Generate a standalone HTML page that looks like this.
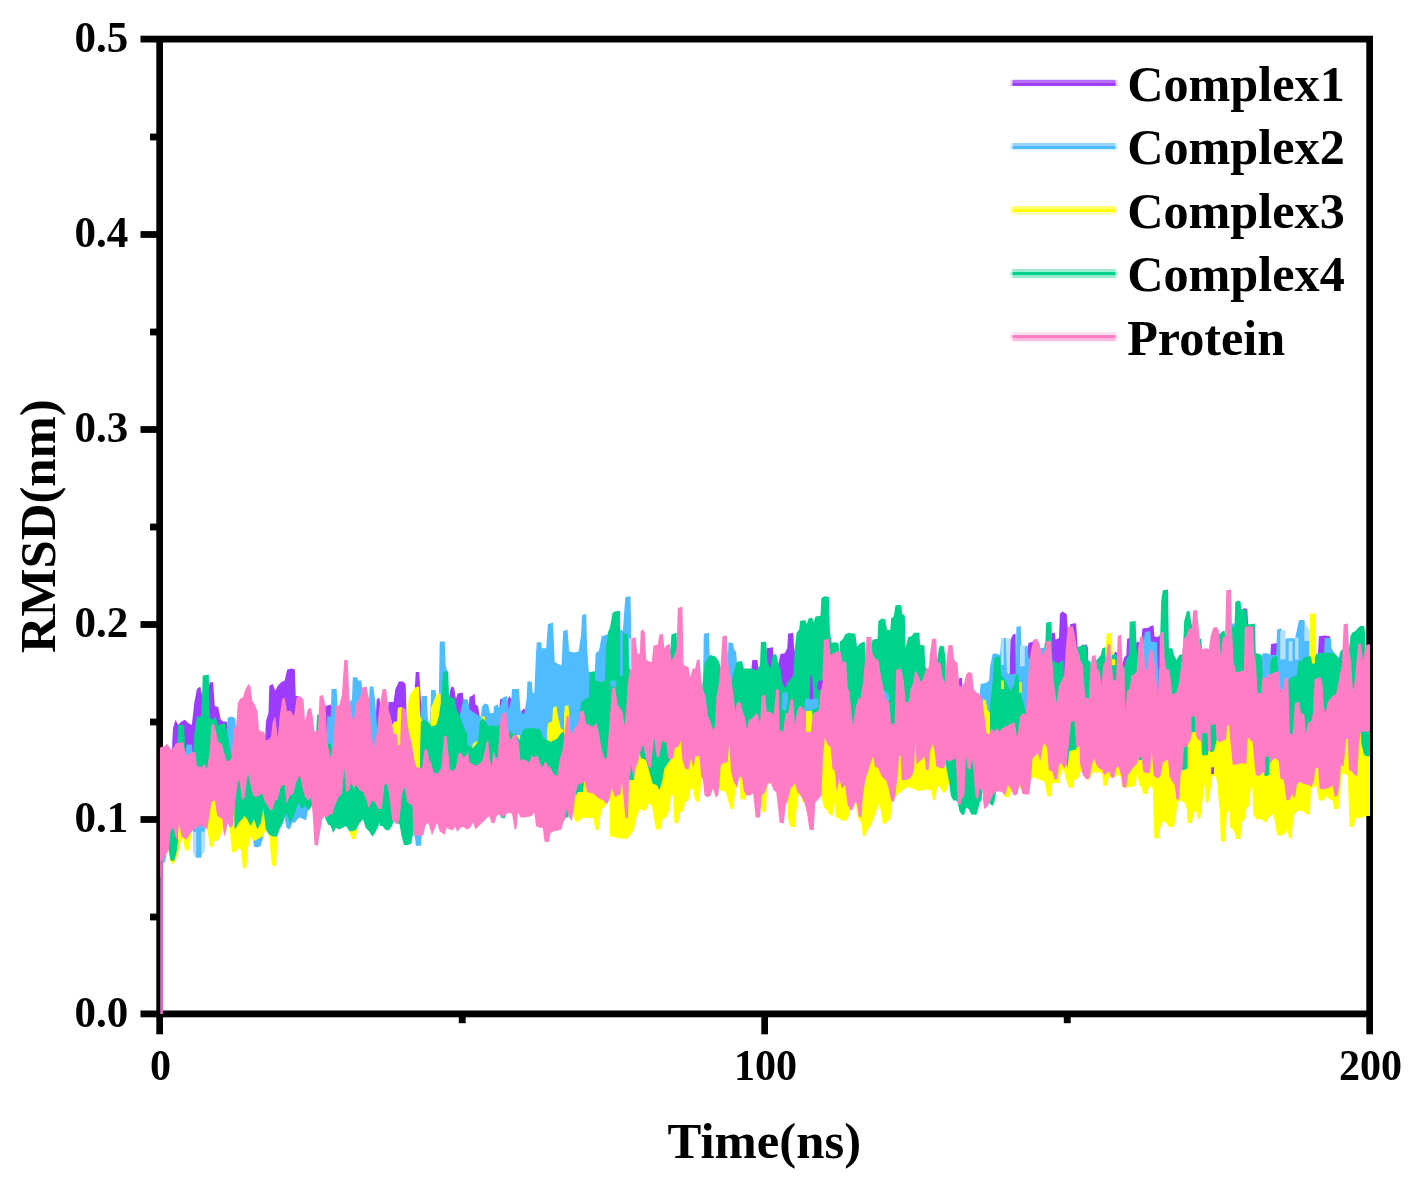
<!DOCTYPE html>
<html lang="en"><head><meta charset="utf-8"><title>RMSD</title>
<style>html,body{margin:0;padding:0;background:#fff}svg{display:block;filter:blur(0.45px)}text{font-family:"Liberation Serif",serif;font-weight:bold;fill:#000}</style></head><body>
<svg width="1408" height="1177" viewBox="0 0 1408 1177">
<rect width="1408" height="1177" fill="#fff"/>
<g fill="#000">
<rect x="156.3" y="36" width="6.7" height="981"/>
<rect x="1366.3" y="36" width="6.7" height="981"/>
<rect x="140.5" y="35.7" width="1232.5" height="6.8"/>
<rect x="140.5" y="1010.5" width="1232.5" height="6.8"/>
<rect x="140.5" y="816.1" width="17" height="6.8"/>
<rect x="140.5" y="621.1" width="17" height="6.8"/>
<rect x="140.5" y="426.1" width="17" height="6.8"/>
<rect x="140.5" y="231.1" width="17" height="6.8"/>
<rect x="150" y="913.6" width="8" height="6.8"/>
<rect x="150" y="718.6" width="8" height="6.8"/>
<rect x="150" y="523.6" width="8" height="6.8"/>
<rect x="150" y="328.6" width="8" height="6.8"/>
<rect x="150" y="133.6" width="8" height="6.8"/>
<rect x="156.3" y="1014" width="6.7" height="20.3"/>
<rect x="761.3" y="1014" width="6.7" height="20.3"/>
<rect x="1366.3" y="1014" width="6.7" height="20.3"/>
<rect x="458.8" y="1014" width="6.9" height="9.2"/>
<rect x="1063.8" y="1014" width="6.9" height="9.2"/>
</g>
<g id="plot">
<clipPath id="cp"><rect x="160" y="39" width="1210" height="975"/></clipPath>
<filter id="bl" x="0" y="0" width="100%" height="100%" filterUnits="userSpaceOnUse"><feGaussianBlur stdDeviation="0.75"/></filter>
<g clip-path="url(#cp)"><g filter="url(#bl)">
<g fill="#9d3bff">
<polygon points="172.2,795.6 172.2,743.6 173.0,728.3 175.6,719.8 178.1,724.9 181.5,721.5 184.9,719.8 188.4,723.2 191.8,724.9 194.3,702.7 196.9,689.1 200.3,686.5 202.8,699.3 206.2,699.3 209.7,682.3 213.1,682.3 214.8,706.1 218.2,707.0 220.7,719.8 223.3,721.5 226.7,721.5 228.4,733.4 228.4,775.2 228.0,775.5 224.0,778.6 220.0,783.2 216.0,784.0 212.0,784.6 208.0,784.7 204.0,786.3 200.0,790.0 196.0,794.1 192.0,793.0 188.0,792.2 184.0,791.1 180.0,791.8 176.0,793.3"/>
<polygon points="265.1,761.5 265.1,740.2 265.9,721.5 268.5,713.0 269.3,685.7 272.7,684.0 275.3,690.8 277.8,685.7 281.2,682.3 284.7,680.6 287.2,669.5 291.5,668.6 294.9,669.5 295.7,695.9 298.3,695.9 300.0,699.3 300.0,750.4 296.0,747.8 292.0,747.5 288.0,749.1 284.0,753.7 280.0,758.0 276.0,759.7 272.0,760.8 268.0,762.3"/>
<polygon points="324.7,769.5 324.7,709.5 325.6,706.1 330.7,704.4 332.4,716.4 332.4,757.8 332.0,758.2 328.0,768.3"/>
<polygon points="375.0,753.1 375.0,733.4 376.7,699.3 379.3,697.6 381.0,709.5 381.0,758.5 380.0,757.5 376.0,753.2"/>
<polygon points="387.7,763.1 387.7,714.7 388.5,701.9 393.6,701.9 395.3,689.1 397.0,685.7 398.8,681.4 403.0,681.4 405.6,684.0 406.4,707.8 406.4,776.8 404.0,774.1 400.0,766.4 396.0,761.2 392.0,760.0 388.0,763.2"/>
<polygon points="414.1,781.1 414.1,699.3 414.9,685.7 415.8,672.0 419.2,672.0 420.9,699.3 421.8,709.5 421.8,791.4 420.0,789.2 416.0,781.7"/>
<polygon points="448.2,794.6 448.2,709.5 449.0,699.3 449.9,690.8 451.6,686.5 454.1,687.4 455.9,699.3 457.6,693.4 462.7,692.5 463.5,699.3 465.2,713.0 465.2,794.4 464.0,794.6 460.0,793.4 456.0,792.2 452.0,793.6"/>
<polygon points="467.8,793.8 467.8,716.4 468.6,709.5 469.5,696.8 472.0,695.9 474.6,693.4 475.5,704.4 478.0,706.1 479.7,716.4 480.6,721.5 480.6,790.7 480.0,790.8 476.0,790.6 472.0,792.3 468.0,793.7"/>
<polygon points="498.5,778.0 498.5,713.0 499.3,707.8 500.2,699.3 501.9,698.5 502.7,707.8 503.6,713.0 503.6,777.8 500.0,777.4"/>
<polygon points="507.0,777.0 507.0,709.5 507.8,699.3 509.5,695.9 511.2,699.3 512.1,707.8 512.1,776.9 512.0,776.9 508.0,776.8"/>
<polygon points="520.6,783.0 520.6,716.4 521.5,711.2 523.2,708.7 525.7,709.5 526.6,716.4 526.6,787.3 524.0,785.5"/>
<polygon points="750.6,755.7 750.6,672.0 751.5,668.6 752.3,660.1 757.4,660.1 758.3,668.6 758.3,756.5 756.0,756.7 752.0,755.6"/>
<polygon points="765.1,754.4 765.1,665.2 766.0,661.8 766.8,648.2 772.8,647.3 773.6,656.7 774.5,665.2 774.5,756.3 772.0,757.6 768.0,756.5"/>
<polygon points="777.9,755.5 777.9,668.6 778.8,661.8 780.5,654.1 784.7,653.3 787.3,648.2 788.1,633.7 793.2,632.8 794.1,648.2 794.9,651.6 795.8,675.5 795.8,758.2 792.0,758.3 788.0,756.2 784.0,756.1 780.0,755.4"/>
<polygon points="816.2,741.9 816.2,689.1 817.1,684.0 818.8,680.6 823.1,680.6 823.9,685.7 823.9,727.4 820.0,735.6"/>
<polygon points="1008.8,758.1 1008.8,675.5 1009.6,673.8 1010.5,639.7 1013.0,634.5 1015.6,633.7 1015.9,673.8 1015.9,754.1 1012.0,757.3"/>
<polygon points="1026.6,732.8 1026.6,656.7 1027.5,651.6 1028.4,643.1 1033.5,641.4 1034.3,648.2 1034.3,716.8 1032.0,720.9 1028.0,730.1"/>
<polygon points="1050.5,713.1 1050.5,648.2 1051.4,641.4 1052.2,632.8 1054.8,632.8 1055.6,639.7 1059.0,638.0 1059.9,614.1 1062.4,611.5 1066.7,614.1 1067.6,626.9 1068.4,631.1 1068.4,707.0 1068.0,707.1 1064.0,708.0 1060.0,709.0 1056.0,712.4 1052.0,714.4"/>
<polygon points="1071.0,706.0 1071.0,627.7 1071.8,626.0 1072.7,623.5 1076.1,623.5 1076.9,636.2 1077.8,648.2 1077.8,707.1 1076.0,707.7 1072.0,705.6"/>
<polygon points="957.6,720.7 957.6,687.4 958.5,685.7 959.3,678.0 961.9,678.0 962.4,685.7 962.4,723.4 960.0,719.9"/>
<polygon points="1070.0,706.4 1070.0,624.3 1075.1,623.5 1076.0,636.2 1076.8,648.2 1076.8,707.4 1076.0,707.7 1072.0,705.6"/>
<polygon points="1080.2,706.4 1080.2,651.6 1081.1,648.2 1081.9,644.8 1087.0,644.8 1087.9,648.2 1087.9,715.9 1084.0,709.3"/>
<polygon points="1125.4,720.4 1125.4,661.8 1126.2,660.1 1127.1,638.8 1129.7,638.0 1130.5,648.2 1130.5,716.8 1128.0,718.0"/>
<polygon points="1134.8,717.6 1134.8,651.6 1135.6,648.2 1136.5,641.4 1139.0,642.2 1139.9,648.2 1139.9,714.8 1136.0,718.3"/>
<polygon points="1140.7,714.6 1140.7,641.4 1141.6,638.0 1142.4,628.6 1148.4,627.7 1151.0,626.0 1153.5,625.2 1154.4,636.2 1156.1,637.1 1159.5,636.2 1160.3,632.8 1161.2,648.2 1161.2,717.0 1160.0,716.0 1156.0,712.3 1152.0,709.8 1148.0,712.4 1144.0,714.0"/>
<polygon points="1242.2,699.8 1242.2,614.1 1243.0,609.8 1243.9,608.1 1247.3,609.0 1248.1,624.3 1249.0,631.1 1249.0,710.1 1248.0,709.8 1244.0,703.8"/>
<polygon points="1269.4,723.6 1269.4,658.4 1270.3,655.0 1271.1,643.9 1277.1,643.1 1278.0,655.0 1278.0,728.2 1276.0,725.5 1272.0,724.8"/>
<polygon points="1112.6,718.3 1112.6,658.4 1113.5,655.0 1115.2,651.6 1117.7,653.3 1118.6,665.2 1118.6,720.0 1116.0,719.7"/>
<polygon points="1120.3,720.3 1120.3,672.0 1121.1,668.6 1124.5,656.7 1127.1,655.0 1128.0,665.2 1128.0,718.0 1124.0,721.6"/>
<polygon points="1317.1,743.2 1317.1,656.7 1318.0,653.3 1318.9,636.2 1324.8,635.4 1329.9,636.2 1330.8,651.6 1331.6,656.7 1331.6,733.4 1328.0,737.3 1324.0,741.1 1320.0,742.3"/>
</g>
<g fill="#50bcff">
<polygon points="185.8,791.6 185.8,750.5 186.6,744.5 191.8,744.5 192.6,752.2 192.6,793.2 192.0,793.0 188.0,792.2"/>
<polygon points="226.7,776.5 226.7,733.4 227.6,718.1 231.0,716.4 235.2,718.1 236.1,728.3 236.1,764.7 236.0,764.8 232.0,772.1 228.0,775.5"/>
<polygon points="326.4,768.9 326.4,743.6 327.3,716.4 330.7,716.4 331.5,689.1 336.6,689.1 337.5,706.1 337.5,752.8 336.0,753.2 332.0,758.2 328.0,768.3"/>
<polygon points="348.6,741.1 348.6,716.4 349.4,702.7 352.0,699.3 352.8,677.2 357.1,677.2 358.0,680.6 361.4,680.6 362.2,689.1 362.2,750.1 360.0,746.8 356.0,739.5 352.0,739.4"/>
<polygon points="369.0,753.5 369.0,699.3 369.9,686.5 373.3,686.5 375.0,699.3 377.6,733.4 377.6,754.8 376.0,753.2 372.0,752.8"/>
<polygon points="420.1,789.3 420.1,716.4 420.9,709.5 421.8,695.9 426.9,695.9 427.7,716.4 428.6,721.5 428.6,797.5 428.0,797.8 424.0,794.1"/>
<polygon points="429.4,797.0 429.4,723.2 430.3,716.4 431.1,689.9 435.4,689.9 437.1,702.7 438.0,716.4 438.0,794.2 436.0,793.7 432.0,795.6"/>
<polygon points="438.0,794.2 438.0,716.4 438.8,699.3 439.7,641.4 444.8,641.4 445.6,665.2 447.3,671.2 448.2,699.3 448.2,794.6 448.0,794.7 444.0,796.1 440.0,794.8"/>
<polygon points="458.4,792.9 458.4,724.9 459.3,716.4 463.5,699.3 467.8,699.3 469.5,709.5 479.7,716.4 480.6,716.4 482.3,706.1 484.8,703.6 488.2,704.4 489.9,713.0 493.4,713.0 494.2,706.1 497.6,704.4 499.3,709.5 502.7,697.6 507.0,695.9 508.7,709.5 511.2,699.3 512.1,689.1 518.9,689.1 520.6,711.2 524.0,714.7 526.6,699.3 527.4,681.4 531.7,681.4 532.6,692.5 534.3,693.4 536.0,653.3 536.8,642.2 541.1,642.2 541.9,648.2 546.2,648.2 547.9,624.3 553.0,622.6 554.7,661.8 557.3,663.5 561.5,665.2 563.2,631.1 567.5,629.4 569.2,651.6 574.3,652.4 578.6,651.6 581.1,634.5 582.0,614.9 586.2,614.1 587.1,648.2 588.8,672.0 594.8,672.0 595.6,653.3 599.0,650.7 601.6,636.2 607.6,634.5 608.4,631.1 609.3,648.2 609.3,759.3 608.0,759.3 604.0,760.4 600.0,762.4 596.0,763.5 592.0,760.2 588.0,757.3 584.0,758.3 580.0,759.0 576.0,761.8 572.0,766.9 568.0,774.9 564.0,782.5 560.0,788.9 556.0,792.5 552.0,796.9 548.0,798.7 544.0,797.4 540.0,795.5 536.0,793.6 532.0,791.0 528.0,788.3 524.0,785.5 520.0,782.6 516.0,779.5 512.0,776.9 508.0,776.8 504.0,777.9 500.0,777.4 496.0,779.1 492.0,782.3 488.0,787.0 484.0,790.4 480.0,790.8 476.0,790.6 472.0,792.3 468.0,793.7 464.0,794.6 460.0,793.4"/>
<polygon points="619.4,747.5 619.4,675.5 620.2,629.4 622.8,631.1 625.3,597.0 630.5,596.2 631.3,638.0 632.2,648.2 632.2,722.7 632.0,722.9 628.0,730.8 624.0,736.1 620.0,745.8"/>
<polygon points="610.0,759.4 610.0,686.5 610.9,680.6 616.0,680.6 616.8,689.1 616.8,754.4 616.0,756.6 612.0,759.5"/>
<polygon points="702.0,733.2 702.0,692.5 702.9,689.1 703.8,633.7 708.9,632.8 709.7,656.7 710.6,665.2 710.6,735.5 708.0,736.5 704.0,735.5"/>
<polygon points="726.8,729.1 726.8,668.6 727.6,665.2 728.5,642.2 732.7,643.1 734.4,649.9 736.1,651.6 737.0,663.5 737.8,682.3 737.8,737.5 736.0,733.7 732.0,728.5 728.0,728.3"/>
<polygon points="781.3,755.6 781.3,699.3 782.2,692.5 787.3,692.5 788.1,709.5 788.1,756.3 788.0,756.2 784.0,756.1"/>
<polygon points="803.5,758.7 803.5,709.5 804.3,699.3 818.0,699.3 818.8,709.5 818.8,737.6 816.0,742.3 812.0,750.7 808.0,759.2 804.0,758.7"/>
<polygon points="978.9,744.2 978.9,695.9 979.8,692.5 980.6,684.0 985.7,683.1 989.1,680.6 990.0,666.9 992.6,654.1 995.1,653.3 1000.2,655.0 1001.1,638.8 1006.2,638.0 1007.0,672.0 1010.5,674.6 1015.9,673.8 1016.4,626.9 1020.7,626.0 1021.5,648.2 1023.2,651.6 1024.9,646.5 1027.5,645.6 1028.4,656.7 1030.1,660.1 1030.9,661.8 1030.9,723.4 1028.0,730.1 1024.0,737.9 1020.0,746.2 1016.0,754.0 1012.0,757.3 1008.0,758.3 1004.0,760.1 1000.0,761.1 996.0,761.6 992.0,759.6 988.0,757.3 984.0,750.8 980.0,745.1"/>
<polygon points="1038.6,710.2 1038.6,658.4 1039.4,655.0 1040.3,648.2 1045.4,647.3 1046.2,655.0 1046.2,709.8 1044.0,708.3 1040.0,708.2"/>
<polygon points="849.4,740.8 849.4,724.9 850.2,699.3 855.3,699.3 856.2,709.5 856.2,740.1 856.0,740.3 852.0,741.9"/>
<polygon points="1143.3,714.1 1143.3,641.4 1144.1,638.0 1145.0,632.0 1150.1,631.1 1151.0,641.4 1156.9,642.2 1157.8,665.2 1158.6,668.6 1158.6,714.7 1156.0,712.3 1152.0,709.8 1148.0,712.4 1144.0,714.0"/>
<polygon points="1230.2,695.3 1230.2,631.1 1231.1,627.7 1231.9,623.5 1234.5,623.5 1235.3,648.2 1235.3,696.0 1232.0,697.2"/>
<polygon points="1260.9,713.0 1260.9,665.2 1261.8,660.1 1262.6,653.3 1267.7,653.3 1270.3,655.0 1276.2,655.0 1277.1,629.4 1281.4,628.6 1282.2,639.7 1285.6,638.8 1291.6,638.0 1295.0,638.8 1298.4,622.6 1299.3,620.1 1304.4,620.1 1306.1,638.0 1310.0,638.8 1310.0,743.2 1308.0,743.1 1304.0,747.5 1300.0,749.8 1296.0,747.0 1292.0,743.4 1288.0,738.5 1284.0,734.7 1280.0,731.1 1276.0,725.5 1272.0,724.8 1268.0,723.0 1264.0,716.6"/>
<polygon points="1310.0,743.2 1310.0,638.8 1311.2,651.6 1316.3,653.3 1324.0,653.3 1324.8,638.0 1330.8,638.0 1331.6,648.2 1334.2,653.3 1338.5,656.7 1340.2,660.1 1341.0,665.2 1341.0,721.6 1340.0,722.5 1336.0,726.1 1332.0,733.0 1328.0,737.3 1324.0,741.1 1320.0,742.3 1316.0,743.5 1312.0,743.4"/>
<polygon points="161.1,799.9 161.1,858.5 161.9,863.6 164.5,862.8 166.2,856.8 166.2,797.3 164.0,798.5"/>
<polygon points="193.0,793.3 193.0,831.2 193.5,852.6 194.7,855.5 196.4,857.7 200.8,857.7 201.8,854.3 204.2,851.7 204.9,831.2 204.9,786.0 204.0,786.3 200.0,790.0 196.0,794.1"/>
<polygon points="252.3,749.1 252.3,836.4 254.0,846.6 257.4,847.4 260.8,845.7 263.4,836.4 263.4,760.4 260.0,756.6 256.0,753.3"/>
<polygon points="284.7,753.0 284.7,817.6 286.4,827.8 289.8,829.5 292.3,822.7 294.9,822.7 297.4,819.3 300.0,817.6 303.4,819.3 306.0,820.2 307.7,812.5 307.7,756.5 304.0,755.1 300.0,750.4 296.0,747.8 292.0,747.5 288.0,749.1"/>
<polygon points="414.1,781.1 414.1,836.4 414.9,836.4 415.8,845.7 420.9,845.7 421.8,836.4 421.8,791.4 420.0,789.2 416.0,781.7"/>
</g>
<g fill="#ffff00">
<polygon points="390.2,761.4 390.2,730.0 391.9,724.9 394.5,721.5 397.0,721.5 397.9,707.8 402.2,707.0 403.0,716.4 403.9,721.5 403.9,773.9 400.0,766.4 396.0,761.2 392.0,760.0"/>
<polygon points="406.4,776.8 406.4,721.5 409.0,695.9 411.5,692.5 414.9,687.4 419.2,686.5 420.1,716.4 422.6,721.5 423.5,733.4 423.5,793.5 420.0,789.2 416.0,781.7 412.0,780.5 408.0,778.6"/>
<polygon points="430.3,796.5 430.3,726.6 431.1,707.8 434.5,699.3 436.2,694.2 440.5,693.4 441.4,716.4 442.2,719.8 442.2,795.6 440.0,794.8 436.0,793.7 432.0,795.6"/>
<polygon points="480.6,790.7 480.6,721.5 481.4,716.4 484.8,716.4 485.7,728.3 487.4,736.8 488.2,740.2 488.2,786.7 488.0,787.0 484.0,790.4"/>
<polygon points="472.0,792.2 472.0,748.8 472.9,743.6 477.2,741.1 478.0,748.8 478.0,790.7 476.0,790.6"/>
<polygon points="516.4,779.8 516.4,740.2 517.2,735.1 519.8,735.1 520.6,741.9 520.6,783.0 520.0,782.6"/>
<polygon points="547.0,798.4 547.0,733.4 547.9,723.2 552.2,721.5 553.0,707.8 556.4,706.1 558.1,716.4 560.7,728.3 563.2,730.0 563.8,736.8 563.8,782.9 560.0,788.9 556.0,792.5 552.0,796.9 548.0,798.7"/>
<polygon points="564.1,782.3 564.1,714.7 564.9,706.1 568.4,705.3 569.2,714.7 569.2,772.5 568.0,774.9"/>
<polygon points="804.3,758.7 804.3,716.4 805.2,716.4 806.0,710.4 812.0,709.5 812.8,716.4 812.8,748.9 812.0,750.7 808.0,759.2"/>
<polygon points="982.3,748.5 982.3,713.0 983.2,699.3 985.7,700.2 987.4,709.5 990.9,714.7 991.7,723.2 991.7,759.4 988.0,757.3 984.0,750.8"/>
<polygon points="1104.9,716.6 1104.9,648.2 1105.8,644.8 1106.6,633.7 1111.8,632.8 1112.6,651.6 1113.5,665.2 1113.5,718.7 1112.0,718.1 1108.0,715.7"/>
<polygon points="1309.1,743.2 1309.1,661.8 1309.8,614.1 1315.4,613.2 1316.3,661.8 1316.3,743.4 1316.0,743.5 1312.0,743.4"/>
<polygon points="168.8,796.2 168.8,853.4 169.6,860.2 173.0,864.5 175.6,860.2 178.1,853.4 180.7,841.5 183.2,838.1 184.9,850.0 188.4,850.9 190.1,841.5 191.8,834.7 191.8,793.0 188.0,792.2 184.0,791.1 180.0,791.8 176.0,793.3 172.0,795.7"/>
<polygon points="207.1,785.1 207.1,829.5 208.0,833.0 209.7,846.6 212.2,847.4 214.8,839.8 217.3,841.5 219.9,836.4 222.4,829.5 225.0,836.4 226.7,829.5 226.7,776.5 224.0,778.6 220.0,783.2 216.0,784.0 212.0,784.6 208.0,784.7"/>
<polygon points="229.3,774.5 229.3,827.8 230.1,833.0 231.8,851.7 235.2,852.6 237.8,848.3 241.2,850.0 242.9,867.9 246.3,868.8 248.0,848.3 250.6,836.4 253.1,841.5 262.5,836.4 265.9,829.5 269.3,836.4 271.9,865.3 276.1,866.2 277.5,836.4 278.2,831.2 278.2,758.8 276.0,759.7 272.0,760.8 268.0,762.3 264.0,761.2 260.0,756.6 256.0,753.3 252.0,748.8 248.0,748.3 244.0,752.2 240.0,757.9 236.0,764.8 232.0,772.1"/>
<polygon points="349.4,740.7 349.4,831.2 350.3,834.7 352.0,838.9 355.4,838.9 357.1,831.2 357.1,741.5 356.0,739.5 352.0,739.4"/>
<polygon points="572.6,766.1 572.6,810.8 574.3,819.3 577.7,822.7 580.3,819.3 584.5,817.6 589.7,818.5 593.1,817.6 595.6,829.5 598.2,831.2 599.9,819.3 601.6,809.1 604.1,807.4 606.7,804.0 606.7,759.6 604.0,760.4 600.0,762.4 596.0,763.5 592.0,760.2 588.0,757.3 584.0,758.3 580.0,759.0 576.0,761.8"/>
<polygon points="610.1,759.4 610.1,800.6 611.0,819.3 614.4,822.7 616.1,836.4 620.0,836.4 620.0,745.8 616.0,756.6 612.0,759.5"/>
<polygon points="610.0,759.4 610.0,836.4 613.4,836.4 616.8,838.1 627.0,838.9 630.5,834.7 633.9,829.5 636.4,817.6 639.8,809.1 643.2,810.8 645.8,810.8 648.4,804.0 651.8,805.7 654.3,819.3 656.0,829.5 660.3,829.5 662.8,819.3 666.2,817.6 669.7,809.1 671.0,795.5 673.1,795.5 674.4,822.7 678.2,823.6 679.9,812.5 683.3,810.8 685.0,802.3 688.4,800.6 690.1,790.3 692.7,788.6 695.2,800.6 699.5,802.3 701.2,780.1 701.2,732.2 700.0,730.8 696.0,724.5 692.0,712.9 688.0,706.8 684.0,706.1 680.0,704.8 676.0,701.4 672.0,697.9 668.0,695.4 664.0,700.2 660.0,702.3 656.0,699.5 652.0,699.6 648.0,701.2 644.0,702.7 640.0,709.9 636.0,717.5 632.0,722.9 628.0,730.8 624.0,736.1 620.0,745.8 616.0,756.6 612.0,759.5"/>
<polygon points="718.2,733.2 718.2,788.6 719.1,788.6 720.8,790.3 725.9,792.0 728.5,802.3 731.0,809.1 733.6,809.1 735.3,788.6 737.8,786.9 737.8,737.5 736.0,733.7 732.0,728.5 728.0,728.3 724.0,731.1 720.0,732.5"/>
<polygon points="738.7,739.2 738.7,776.7 739.5,776.7 740.4,798.9 744.7,799.7 746.4,795.5 746.4,753.6 744.0,750.2 740.0,741.8"/>
<polygon points="760.0,756.3 760.0,795.5 760.9,795.5 761.7,811.6 766.0,812.5 766.8,792.0 768.5,783.5 768.5,756.6 768.0,756.5 764.0,753.6"/>
<polygon points="786.4,756.2 786.4,798.9 787.3,798.9 788.1,819.3 790.7,827.0 794.9,827.0 796.6,809.1 798.4,795.5 800.9,795.5 802.6,802.3 805.2,803.1 805.2,758.9 804.0,758.7 800.0,758.6 796.0,758.2 792.0,758.3 788.0,756.2"/>
<polygon points="820.5,734.5 820.5,795.5 821.4,795.5 823.9,807.4 827.3,810.8 829.9,815.1 832.4,815.9 834.1,802.3 835.9,817.6 839.3,818.5 841.8,817.6 846.1,821.0 847.8,819.3 850.0,810.8 850.0,741.0 848.0,740.2 844.0,733.2 840.0,724.2 836.0,714.1 832.0,714.0 828.0,718.7 824.0,727.3"/>
<polygon points="840.0,724.2 840.0,819.3 843.4,821.0 846.8,819.3 847.7,812.5 850.2,810.8 850.2,741.1 848.0,740.2 844.0,733.2"/>
<polygon points="856.2,740.1 856.2,805.7 857.0,815.9 858.8,819.3 861.3,822.7 863.0,836.4 865.6,835.5 867.3,829.5 870.7,826.1 873.2,819.3 875.8,812.5 878.4,804.0 880.9,810.8 882.6,822.7 885.2,824.4 887.7,821.0 890.3,819.3 892.0,802.3 895.4,797.2 898.8,792.9 901.4,792.0 904.8,788.6 908.2,786.9 913.3,788.6 917.6,791.2 921.8,790.3 926.9,789.5 931.2,790.3 932.9,799.7 935.5,800.6 937.2,785.2 940.6,788.6 943.1,792.9 945.7,792.0 948.2,785.2 949.9,781.8 949.9,717.6 948.0,715.0 944.0,707.4 940.0,708.5 936.0,710.4 932.0,712.7 928.0,711.1 924.0,713.2 920.0,718.8 916.0,724.4 912.0,723.5 908.0,726.0 904.0,732.1 900.0,736.6 896.0,737.1 892.0,734.4 888.0,731.7 884.0,730.3 880.0,726.1 876.0,721.4 872.0,723.4 868.0,726.2 864.0,732.3 860.0,737.2"/>
<polygon points="1002.8,760.4 1002.8,792.0 1003.6,795.5 1005.3,797.2 1009.6,797.2 1011.3,788.6 1011.3,757.5 1008.0,758.3 1004.0,760.1"/>
<polygon points="1017.3,751.5 1017.3,788.6 1018.1,785.2 1019.0,788.6 1021.5,788.6 1022.4,793.8 1022.4,741.2 1020.0,746.2"/>
<polygon points="1030.1,725.4 1030.1,780.1 1030.9,780.1 1033.5,776.7 1036.0,778.4 1040.3,780.1 1044.5,781.8 1047.1,795.5 1050.5,797.2 1052.2,783.5 1055.6,782.7 1059.0,783.5 1061.6,768.2 1064.1,771.6 1066.7,781.8 1069.3,787.8 1072.7,787.8 1074.4,780.1 1077.8,778.4 1080.0,773.3 1080.0,706.2 1076.0,707.7 1072.0,705.6 1068.0,707.1 1064.0,708.0 1060.0,709.0 1056.0,712.4 1052.0,714.4 1048.0,710.9 1044.0,708.3 1040.0,708.2 1036.0,713.8 1032.0,720.9"/>
<polygon points="1070.0,706.4 1070.0,786.9 1072.6,786.9 1074.3,778.4 1077.7,779.3 1079.4,773.3 1081.1,771.6 1081.1,707.0 1080.0,706.2 1076.0,707.7 1072.0,705.6"/>
<polygon points="1086.2,713.0 1086.2,778.4 1087.0,779.3 1088.8,780.1 1091.3,775.0 1093.9,771.6 1097.3,773.3 1099.8,771.6 1102.4,775.0 1103.2,785.2 1106.6,786.1 1108.4,778.4 1110.9,776.7 1114.3,777.6 1116.9,775.0 1120.3,775.9 1122.0,786.9 1127.1,787.8 1129.7,786.9 1135.6,786.1 1137.3,771.6 1139.0,785.2 1141.6,786.9 1143.3,793.8 1146.7,794.6 1148.4,788.6 1151.0,785.2 1152.7,788.6 1154.4,838.1 1158.6,838.9 1160.3,827.8 1162.9,821.0 1166.3,822.7 1168.9,827.0 1174.0,827.0 1175.7,819.3 1177.4,802.3 1180.8,800.6 1184.2,802.3 1186.8,809.1 1187.6,822.7 1191.9,823.6 1193.6,812.5 1196.1,810.8 1197.8,819.3 1200.4,817.6 1202.1,802.3 1204.7,783.5 1205.5,802.3 1208.1,803.1 1209.8,795.5 1212.3,776.7 1215.7,775.0 1217.4,785.2 1220.0,815.9 1220.9,841.5 1225.1,841.5 1226.8,812.5 1229.4,810.8 1230.2,827.8 1233.6,829.5 1236.2,838.9 1240.5,838.9 1241.3,822.7 1244.7,819.3 1246.4,809.1 1249.0,805.7 1250.7,788.6 1252.4,788.6 1253.2,814.2 1256.6,819.3 1261.8,819.3 1266.0,822.7 1268.6,817.6 1272.8,814.2 1274.5,819.3 1277.1,835.5 1281.4,835.5 1285.6,833.0 1287.3,829.5 1289.0,838.1 1291.6,838.9 1293.3,815.9 1296.7,811.6 1300.1,810.8 1303.5,810.8 1306.1,814.2 1310.0,814.2 1310.0,743.2 1308.0,743.1 1304.0,747.5 1300.0,749.8 1296.0,747.0 1292.0,743.4 1288.0,738.5 1284.0,734.7 1280.0,731.1 1276.0,725.5 1272.0,724.8 1268.0,723.0 1264.0,716.6 1260.0,712.0 1256.0,711.4 1252.0,710.8 1248.0,709.8 1244.0,703.8 1240.0,695.0 1236.0,695.7 1232.0,697.2 1228.0,692.9 1224.0,688.9 1220.0,686.3 1216.0,687.5 1212.0,692.2 1208.0,689.8 1204.0,687.9 1200.0,688.4 1196.0,690.4 1192.0,694.7 1188.0,700.9 1184.0,707.4 1180.0,713.5 1176.0,716.6 1172.0,720.0 1168.0,723.5 1164.0,719.6 1160.0,716.0 1156.0,712.3 1152.0,709.8 1148.0,712.4 1144.0,714.0 1140.0,714.7 1136.0,718.3 1132.0,716.1 1128.0,718.0 1124.0,721.6 1120.0,720.2 1116.0,719.7 1112.0,718.1 1108.0,715.7 1104.0,716.9 1100.0,718.9 1096.0,719.7 1092.0,719.8 1088.0,716.0"/>
<polygon points="1310.0,743.2 1310.0,812.5 1311.2,788.6 1313.7,786.9 1316.3,785.2 1318.9,800.6 1324.0,800.6 1325.7,795.5 1329.1,798.9 1332.5,800.6 1334.2,809.1 1338.5,809.1 1340.2,795.5 1341.0,775.0 1343.6,773.3 1346.1,775.0 1347.8,775.0 1348.7,802.3 1349.5,827.0 1353.8,827.0 1355.5,817.6 1358.1,818.5 1362.3,817.6 1365.7,815.9 1370.8,815.9 1370.8,691.6 1368.0,696.0 1364.0,700.5 1360.0,698.3 1356.0,699.0 1352.0,704.3 1348.0,711.7 1344.0,719.0 1340.0,722.5 1336.0,726.1 1332.0,733.0 1328.0,737.3 1324.0,741.1 1320.0,742.3 1316.0,743.5 1312.0,743.4"/>
</g>
<g fill="#00d28b">
<polygon points="177.3,792.8 177.3,742.8 178.1,724.9 184.1,724.9 184.9,741.9 184.9,791.4 184.0,791.1 180.0,791.8"/>
<polygon points="193.5,793.4 193.5,752.2 194.3,733.4 196.9,716.4 201.1,716.4 202.8,675.5 208.8,674.6 209.7,716.4 212.2,719.8 215.6,716.4 218.2,724.9 225.0,723.2 227.6,733.4 230.1,750.5 231.8,757.3 231.8,772.3 228.0,775.5 224.0,778.6 220.0,783.2 216.0,784.0 212.0,784.6 208.0,784.7 204.0,786.3 200.0,790.0 196.0,794.1"/>
<polygon points="316.2,765.5 316.2,731.7 317.0,714.7 318.8,714.7 319.6,730.0 319.6,769.4"/>
<polygon points="325.6,769.2 325.6,750.5 326.4,743.6 330.7,743.6 332.4,750.5 332.4,757.8 332.0,758.2 328.0,768.3"/>
<polygon points="420.1,789.3 420.1,750.5 420.9,721.5 424.3,719.8 429.4,723.2 431.1,726.6 436.2,724.9 438.8,716.4 441.4,699.3 443.1,672.0 448.2,671.2 449.0,695.9 451.6,697.6 455.0,699.3 456.7,709.5 459.3,714.7 461.8,721.5 464.4,728.3 466.9,733.4 467.8,745.3 472.9,747.9 478.0,741.9 479.7,721.5 482.3,718.1 485.7,721.5 489.1,726.6 492.5,724.9 495.9,726.6 499.3,724.9 500.2,733.4 500.2,777.4 500.0,777.4 496.0,779.1 492.0,782.3 488.0,787.0 484.0,790.4 480.0,790.8 476.0,790.6 472.0,792.3 468.0,793.7 464.0,794.6 460.0,793.4 456.0,792.2 452.0,793.6 448.0,794.7 444.0,796.1 440.0,794.8 436.0,793.7 432.0,795.6 428.0,797.8 424.0,794.1"/>
<polygon points="508.7,776.8 508.7,733.4 509.5,730.0 512.1,733.4 516.4,735.1 519.8,740.2 521.5,733.4 524.0,729.1 528.3,728.3 533.4,728.3 539.4,729.1 541.9,733.4 543.6,738.5 547.9,740.2 550.5,741.9 557.3,738.5 560.7,733.4 563.2,731.7 564.1,733.4 564.1,782.3 564.0,782.5 560.0,788.9 556.0,792.5 552.0,796.9 548.0,798.7 544.0,797.4 540.0,795.5 536.0,793.6 532.0,791.0 528.0,788.3 524.0,785.5 520.0,782.6 516.0,779.5 512.0,776.9"/>
<polygon points="579.4,759.4 579.4,716.4 580.3,711.2 581.1,702.7 584.5,699.3 588.8,697.6 589.7,672.0 594.8,671.2 595.6,680.6 601.6,682.3 605.0,680.6 605.9,648.2 608.4,631.1 611.0,626.0 614.4,611.5 620.0,610.7 620.0,745.8 616.0,756.6 612.0,759.5 608.0,759.3 604.0,760.4 600.0,762.4 596.0,763.5 592.0,760.2 588.0,757.3 584.0,758.3 580.0,759.0"/>
<polygon points="610.0,759.4 610.0,627.7 612.6,612.4 619.4,611.5 620.2,629.4 622.8,632.8 627.9,634.5 628.8,665.2 630.5,670.3 631.3,672.0 631.3,724.3 628.0,730.8 624.0,736.1 620.0,745.8 616.0,756.6 612.0,759.5"/>
<polygon points="669.7,696.4 669.7,651.6 670.5,648.2 671.4,634.5 676.5,632.8 677.3,648.2 677.3,702.5 676.0,701.4 672.0,697.9"/>
<polygon points="701.2,732.2 701.2,689.1 702.0,689.1 704.6,663.5 708.9,656.7 710.6,655.0 715.7,656.7 719.1,661.8 720.8,668.6 721.6,682.3 721.6,731.9 720.0,732.5 716.0,734.0 712.0,734.9 708.0,736.5 704.0,735.5"/>
<polygon points="731.0,728.4 731.0,685.7 731.9,682.3 733.6,672.0 737.0,661.8 742.1,661.0 743.8,668.6 751.5,668.6 756.6,670.3 760.0,665.2 760.9,642.2 766.0,641.4 767.7,661.8 770.2,668.6 772.8,655.0 776.2,654.1 777.9,661.8 780.5,668.6 782.2,682.3 785.6,689.1 787.3,682.3 790.7,678.9 793.2,675.5 794.9,648.2 796.6,632.8 799.2,629.4 800.1,620.9 805.2,620.1 806.9,624.3 808.6,618.4 812.0,617.5 813.7,622.6 815.4,616.6 820.5,615.8 821.4,597.9 824.8,596.2 829.0,597.0 829.9,631.1 831.6,643.1 834.1,642.2 838.4,643.1 839.3,651.6 839.3,722.3 836.0,714.1 832.0,714.0 828.0,718.7 824.0,727.3 820.0,735.6 816.0,742.3 812.0,750.7 808.0,759.2 804.0,758.7 800.0,758.6 796.0,758.2 792.0,758.3 788.0,756.2 784.0,756.1 780.0,755.4 776.0,755.5 772.0,757.6 768.0,756.5 764.0,753.6 760.0,756.3 756.0,756.7 752.0,755.6 748.0,755.9 744.0,750.2 740.0,741.8 736.0,733.7 732.0,728.5"/>
<polygon points="840.1,724.5 840.1,656.7 841.0,653.3 841.8,639.7 845.2,638.0 847.8,633.7 850.0,632.8 850.0,741.0 848.0,740.2 844.0,733.2"/>
<polygon points="840.0,724.2 840.0,641.4 842.6,639.7 845.1,634.5 848.5,632.8 855.3,633.7 857.0,646.5 860.5,643.1 864.7,641.4 865.6,653.3 865.6,729.9 864.0,732.3 860.0,737.2 856.0,740.3 852.0,741.9 848.0,740.2 844.0,733.2"/>
<polygon points="870.7,724.3 870.7,651.6 871.5,648.2 872.4,639.7 877.5,638.8 878.4,620.9 881.8,618.4 885.2,619.2 886.9,629.4 890.3,630.3 891.1,618.4 893.7,616.6 895.4,605.6 898.8,604.7 901.4,605.6 902.2,614.1 904.8,615.8 905.6,648.2 908.2,637.1 911.6,636.2 914.1,632.8 919.3,632.8 920.1,644.8 924.4,645.6 925.2,665.2 926.1,668.6 926.1,712.1 924.0,713.2 920.0,718.8 916.0,724.4 912.0,723.5 908.0,726.0 904.0,732.1 900.0,736.6 896.0,737.1 892.0,734.4 888.0,731.7 884.0,730.3 880.0,726.1 876.0,721.4 872.0,723.4"/>
<polygon points="936.3,710.3 936.3,661.8 937.2,660.1 938.9,648.2 940.6,645.6 944.0,646.5 945.7,660.1 945.7,710.6 944.0,707.4 940.0,708.5"/>
<polygon points="990.0,758.5 990.0,702.7 990.9,699.3 992.6,682.3 994.3,658.4 996.0,656.7 1000.2,656.7 1001.1,675.5 1003.6,677.2 1006.2,682.3 1010.5,690.8 1013.9,685.7 1015.6,675.5 1018.1,673.8 1019.8,689.1 1022.4,699.3 1024.1,704.4 1025.8,713.0 1025.8,734.4 1024.0,737.9 1020.0,746.2 1016.0,754.0 1012.0,757.3 1008.0,758.3 1004.0,760.1 1000.0,761.1 996.0,761.6 992.0,759.6"/>
<polygon points="1044.5,708.7 1044.5,644.8 1045.4,641.4 1046.2,622.6 1051.4,621.8 1052.2,641.4 1052.2,714.3 1052.0,714.4 1048.0,710.9"/>
<polygon points="1050.5,713.1 1050.5,661.8 1051.4,660.1 1053.1,661.0 1058.2,663.5 1063.3,660.1 1064.1,675.5 1064.1,707.9 1064.0,708.0 1060.0,709.0 1056.0,712.4 1052.0,714.4"/>
<polygon points="1075.2,707.3 1075.2,656.7 1076.1,655.0 1076.9,648.2 1080.0,647.3 1080.0,706.2 1076.0,707.7"/>
<polygon points="1075.1,707.3 1075.1,655.0 1076.0,651.6 1076.8,647.3 1079.4,646.5 1081.9,645.6 1086.2,644.8 1087.9,660.1 1090.5,661.8 1091.3,668.6 1091.3,719.1 1088.0,716.0 1084.0,709.3 1080.0,706.2 1076.0,707.7"/>
<polygon points="1095.6,719.7 1095.6,661.8 1096.4,660.1 1098.1,658.4 1100.7,655.0 1102.4,648.2 1104.9,647.3 1105.8,660.1 1106.6,668.6 1106.6,716.1 1104.0,716.9 1100.0,718.9 1096.0,719.7"/>
<polygon points="1110.1,716.9 1110.1,668.6 1110.9,665.2 1111.8,655.0 1116.0,653.3 1117.7,665.2 1117.7,719.9 1116.0,719.7 1112.0,718.1"/>
<polygon points="1122.8,721.2 1122.8,672.0 1123.7,668.6 1126.2,660.1 1128.8,655.0 1129.7,621.8 1135.6,620.9 1136.5,648.2 1137.3,651.6 1138.2,665.2 1138.2,716.3 1136.0,718.3 1132.0,716.1 1128.0,718.0 1124.0,721.6"/>
<polygon points="1159.5,715.5 1159.5,636.2 1160.3,632.8 1161.2,600.5 1162.9,590.2 1168.0,589.4 1168.9,648.2 1172.3,648.2 1174.0,655.0 1176.5,660.1 1179.1,655.0 1182.5,654.1 1183.4,638.8 1184.2,620.9 1186.8,611.5 1189.3,610.7 1191.0,620.9 1192.7,627.7 1193.6,631.1 1193.6,693.0 1192.0,694.7 1188.0,700.9 1184.0,707.4 1180.0,713.5 1176.0,716.6 1172.0,720.0 1168.0,723.5 1164.0,719.6 1160.0,716.0"/>
<polygon points="1197.8,689.5 1197.8,648.2 1198.7,644.8 1199.5,638.8 1201.2,638.8 1202.1,648.2 1202.1,688.1 1200.0,688.4"/>
<polygon points="1218.3,686.8 1218.3,638.0 1219.1,634.5 1220.9,632.8 1224.3,630.3 1225.5,636.2 1225.5,690.4 1224.0,688.9 1220.0,686.3"/>
<polygon points="1231.1,696.2 1231.1,631.1 1231.9,627.7 1234.5,626.0 1235.3,602.2 1237.9,600.5 1240.5,601.3 1241.3,609.0 1246.4,609.8 1247.3,624.3 1250.7,624.3 1254.9,623.5 1255.8,653.3 1259.2,654.1 1261.8,655.0 1262.6,677.2 1262.6,715.0 1260.0,712.0 1256.0,711.4 1252.0,710.8 1248.0,709.8 1244.0,703.8 1240.0,695.0 1236.0,695.7 1232.0,697.2"/>
<polygon points="1270.3,724.0 1270.3,663.5 1271.1,660.1 1272.8,656.7 1277.1,655.9 1278.0,670.3 1278.0,728.2 1276.0,725.5 1272.0,724.8"/>
<polygon points="1288.2,738.8 1288.2,682.3 1289.0,678.9 1291.6,677.2 1296.7,675.5 1298.4,661.8 1301.8,660.1 1306.1,656.7 1310.0,655.9 1310.0,743.2 1308.0,743.1 1304.0,747.5 1300.0,749.8 1296.0,747.0 1292.0,743.4"/>
<polygon points="1310.0,743.2 1310.0,655.9 1312.9,660.1 1316.3,655.0 1319.7,653.3 1324.8,652.4 1329.9,653.3 1333.3,652.4 1335.9,655.0 1338.5,660.1 1340.2,651.6 1341.9,649.9 1343.6,648.2 1344.4,665.2 1344.4,718.2 1344.0,719.0 1340.0,722.5 1336.0,726.1 1332.0,733.0 1328.0,737.3 1324.0,741.1 1320.0,742.3 1316.0,743.5 1312.0,743.4"/>
<polygon points="1347.8,712.0 1347.8,655.0 1348.7,651.6 1350.4,636.2 1352.1,632.8 1355.5,631.1 1358.1,627.7 1360.6,626.0 1364.0,626.0 1364.9,631.1 1365.7,648.2 1365.7,698.6 1364.0,700.5 1360.0,698.3 1356.0,699.0 1352.0,704.3 1348.0,711.7"/>
<polygon points="167.9,796.4 167.9,850.0 168.8,850.0 170.5,860.2 173.9,861.1 176.4,853.4 178.1,841.5 178.1,792.5 176.0,793.3 172.0,795.7 168.0,796.3"/>
<polygon points="234.4,767.8 234.4,826.1 235.2,829.5 238.6,822.7 242.0,819.3 244.6,815.9 247.2,819.3 250.6,826.1 254.0,819.3 257.4,829.5 260.8,822.7 263.4,809.1 265.9,829.5 269.3,834.7 272.7,836.4 277.0,836.4 279.5,829.5 282.1,824.4 284.7,817.6 286.4,812.5 289.8,822.7 293.2,817.6 295.7,810.8 298.3,802.3 301.7,809.1 305.1,805.7 308.5,810.8 311.9,805.7 312.8,802.3 312.8,760.0 312.0,758.8 308.0,756.6 304.0,755.1 300.0,750.4 296.0,747.8 292.0,747.5 288.0,749.1 284.0,753.7 280.0,758.0 276.0,759.7 272.0,760.8 268.0,762.3 264.0,761.2 260.0,756.6 256.0,753.3 252.0,748.8 248.0,748.3 244.0,752.2 240.0,757.9 236.0,764.8"/>
<polygon points="324.7,769.5 324.7,815.9 325.6,819.3 328.1,824.4 330.7,826.1 333.2,833.0 335.8,827.8 339.2,829.5 342.6,827.8 346.0,826.1 349.4,831.2 352.8,831.2 356.2,829.5 359.7,822.7 363.1,819.3 365.6,827.8 369.0,831.2 372.4,836.4 375.0,833.0 378.4,826.1 381.0,819.3 383.5,826.1 386.9,829.5 390.0,829.5 390.0,761.6 388.0,763.2 384.0,761.6 380.0,757.5 376.0,753.2 372.0,752.8 368.0,753.7 364.0,752.8 360.0,746.8 356.0,739.5 352.0,739.4 348.0,741.4 344.0,746.8 340.0,752.1 336.0,753.2 332.0,758.2 328.0,768.3"/>
<polygon points="380.0,757.5 380.0,826.1 382.6,826.1 385.1,829.5 388.5,830.4 391.9,826.1 394.5,819.3 397.0,822.7 399.6,824.4 401.3,834.7 403.9,844.9 408.1,844.9 411.5,843.2 412.4,836.4 413.2,834.7 413.2,780.9 412.0,780.5 408.0,778.6 404.0,774.1 400.0,766.4 396.0,761.2 392.0,760.0 388.0,763.2 384.0,761.6"/>
<polygon points="498.5,778.0 498.5,814.2 499.3,814.2 501.0,817.6 504.4,818.5 506.1,814.2 506.1,777.3 504.0,777.9 500.0,777.4"/>
<polygon points="564.9,780.7 564.9,819.3 565.8,817.6 568.4,817.6 569.2,809.1 569.2,772.5 568.0,774.9"/>
<polygon points="575.2,762.9 575.2,795.5 576.0,795.5 577.7,792.0 582.8,792.0 583.7,785.2 583.7,758.4 580.0,759.0 576.0,761.8"/>
<polygon points="627.0,732.1 627.0,783.5 627.9,781.8 629.6,780.1 633.9,780.1 634.7,768.2 634.7,719.2 632.0,722.9 628.0,730.8"/>
<polygon points="639.0,711.8 639.0,754.5 639.8,751.1 640.7,758.0 645.8,759.7 648.4,768.2 652.6,783.5 656.9,785.2 659.4,790.3 662.0,781.8 664.5,768.2 668.0,763.1 670.5,759.7 670.5,697.0 668.0,695.4 664.0,700.2 660.0,702.3 656.0,699.5 652.0,699.6 648.0,701.2 644.0,702.7 640.0,709.9"/>
<polygon points="945.7,710.6 945.7,764.8 946.5,768.2 949.1,781.8 950.8,795.5 953.4,800.6 955.9,800.6 957.6,802.3 959.3,810.8 961.9,815.1 964.4,814.2 966.1,807.4 968.7,809.1 971.2,814.2 976.4,815.1 978.1,809.1 979.8,802.3 981.5,800.6 982.3,790.3 982.3,748.5 980.0,745.1 976.0,741.8 972.0,738.4 968.0,731.4 964.0,725.7 960.0,719.9 956.0,721.1 952.0,720.4 948.0,715.0"/>
<polygon points="988.3,757.5 988.3,802.3 989.1,802.3 990.0,804.0 992.6,805.7 994.3,802.3 996.0,792.0 996.0,761.5 992.0,759.6"/>
<polygon points="1065.9,707.6 1065.9,764.8 1066.7,764.8 1067.6,768.2 1069.3,751.1 1076.1,749.4 1076.9,746.0 1076.9,707.4 1076.0,707.7 1072.0,705.6 1068.0,707.1"/>
<polygon points="1070.0,706.4 1070.0,746.0 1076.0,746.0 1076.8,742.6 1076.8,707.4 1076.0,707.7 1072.0,705.6"/>
<polygon points="1137.3,717.1 1137.3,758.0 1138.2,758.0 1139.0,760.5 1141.6,759.7 1142.4,757.1 1142.4,714.3 1140.0,714.7"/>
<polygon points="1180.8,712.3 1180.8,769.9 1181.6,769.9 1183.4,769.9 1186.8,769.0 1187.6,744.3 1187.6,701.5 1184.0,707.4"/>
<polygon points="1200.4,688.4 1200.4,740.9 1201.2,740.9 1202.1,754.5 1207.2,755.4 1208.4,751.1 1208.4,690.1 1208.0,689.8 1204.0,687.9"/>
<polygon points="1208.9,690.4 1208.9,751.1 1209.8,751.1 1210.6,752.0 1213.2,751.1 1216.6,740.1 1216.6,687.3 1216.0,687.5 1212.0,692.2"/>
<polygon points="1263.5,716.0 1263.5,771.6 1264.3,775.0 1265.2,775.9 1268.6,775.0 1269.4,763.1 1269.4,723.6 1268.0,723.0 1264.0,716.6"/>
<polygon points="1359.8,698.3 1359.8,732.4 1360.6,732.4 1361.5,744.3 1364.0,754.5 1366.6,756.2 1370.8,756.2 1370.8,691.6 1368.0,696.0 1364.0,700.5 1360.0,698.3"/>
</g>
<polygon fill="#ff7dc5" points="159.9,747.9 161.1,747.0 164.5,746.2 167.0,743.6 170.5,748.8 173.0,748.8 175.6,743.6 179.8,742.8 183.2,741.9 184.9,750.5 186.6,755.6 191.8,752.2 195.2,752.2 196.9,765.8 201.1,767.5 204.5,764.1 207.1,769.2 209.7,750.5 211.4,724.9 213.9,723.2 216.5,733.4 218.2,741.9 221.6,743.6 224.1,752.2 226.7,760.7 229.3,760.7 231.8,757.3 233.5,728.3 236.1,726.6 237.8,702.7 240.3,698.5 242.9,697.6 245.5,689.1 248.5,684.0 250.6,686.5 252.3,701.0 254.8,704.4 257.4,711.2 259.1,730.0 261.6,731.7 264.2,731.7 265.9,740.2 268.5,739.4 271.0,736.8 272.7,721.5 275.3,716.4 277.8,738.5 279.5,718.1 282.1,699.3 284.7,697.6 287.2,711.2 290.6,710.4 294.0,716.4 296.6,697.6 300.0,695.9 303.4,699.3 305.1,721.5 307.7,709.5 311.1,707.8 312.8,716.4 314.5,731.7 317.9,730.0 319.6,695.9 323.0,695.1 325.6,706.1 327.3,743.6 330.7,757.3 333.2,743.6 335.8,706.1 339.2,705.3 341.8,695.9 344.3,660.1 347.7,660.1 349.4,697.6 352.0,716.4 353.7,721.5 356.2,702.7 359.7,699.3 362.2,687.4 366.5,686.5 369.0,699.3 371.6,735.1 374.1,747.9 376.7,733.4 379.3,707.8 382.7,689.1 386.1,689.1 388.6,709.5 390.2,714.7 391.9,721.5 393.6,733.4 397.0,734.3 397.9,745.3 400.1,745.3 401.3,709.5 403.9,707.8 405.6,709.5 407.3,721.5 409.0,733.4 411.5,741.9 414.1,759.0 416.6,767.5 419.2,767.5 421.8,769.2 424.3,750.5 426.9,748.8 429.4,760.7 431.1,762.4 433.7,772.6 438.0,773.5 441.4,767.5 443.9,736.8 446.5,735.1 448.2,750.5 449.9,769.2 453.3,770.9 455.9,767.5 458.4,753.9 461.0,752.2 463.5,757.3 466.1,755.6 467.8,750.5 469.5,762.4 472.9,764.1 475.5,765.8 478.9,764.1 482.3,760.7 484.8,750.5 486.5,741.9 488.2,740.2 489.9,759.0 491.6,767.5 493.4,750.5 495.9,757.3 497.6,759.0 499.3,733.4 501.0,714.7 503.6,713.0 506.1,711.2 507.8,728.3 510.4,740.2 513.8,734.3 516.4,735.1 518.9,743.6 520.6,760.7 523.2,759.0 526.6,760.7 529.1,762.4 531.7,755.6 535.1,757.3 537.7,755.6 540.2,764.1 542.8,767.5 545.3,760.7 547.9,765.8 550.5,767.5 553.9,774.3 557.3,776.0 559.8,759.0 562.4,750.5 564.9,730.0 566.6,716.4 568.4,714.7 570.1,730.0 572.6,733.4 575.2,726.6 577.7,724.9 580.3,711.2 583.7,710.4 586.2,723.2 588.8,724.9 593.1,726.6 596.5,723.2 599.0,733.4 601.6,748.8 604.1,757.3 606.7,759.0 609.3,724.9 611.8,689.1 615.2,686.5 617.8,706.1 619.5,707.0 620.2,707.8 622.8,713.0 624.5,724.9 626.2,709.5 627.9,682.3 629.6,672.0 631.3,638.8 635.6,637.1 637.3,653.3 639.8,654.1 640.7,631.1 643.2,629.4 644.9,632.8 646.1,659.3 649.2,661.8 651.8,661.8 653.5,645.6 657.7,644.8 659.4,634.5 662.8,633.7 664.5,648.2 667.1,644.8 669.7,643.9 671.4,660.1 673.9,656.7 676.5,648.2 677.8,608.1 682.4,606.4 683.6,665.2 685.9,666.1 688.4,666.9 690.1,677.2 692.7,668.6 695.2,668.6 696.9,660.1 699.5,659.3 701.2,678.9 702.9,689.1 705.5,695.9 708.0,716.4 710.6,721.5 713.1,730.0 714.8,726.6 716.5,695.9 719.1,682.3 720.8,661.8 722.5,636.2 726.8,635.4 728.5,665.2 731.0,678.9 732.7,689.1 735.3,711.2 737.0,702.7 740.4,701.9 742.1,709.5 744.7,716.4 747.2,730.0 748.9,719.8 752.3,718.1 754.9,714.7 757.4,713.0 760.0,723.2 761.7,695.9 765.1,694.2 766.8,711.2 770.2,712.1 773.6,714.7 776.2,689.1 778.8,689.9 779.6,730.0 783.0,731.7 785.6,713.0 788.1,713.0 790.7,699.3 793.2,699.3 794.9,724.9 797.5,709.5 800.1,706.1 802.6,707.8 805.2,711.2 806.0,731.7 811.1,731.7 812.8,713.0 816.2,712.1 818.8,709.5 820.5,690.8 822.2,682.3 823.9,639.7 829.0,638.8 830.7,655.0 833.3,653.3 836.7,651.6 840.1,650.7 842.7,661.8 846.1,661.8 847.8,689.1 849.5,690.8 850.2,699.3 852.8,724.9 855.3,709.5 857.9,699.3 860.5,697.6 863.0,682.3 865.6,653.3 866.4,637.1 871.5,637.1 872.4,653.3 874.9,658.4 878.4,660.1 880.9,675.5 883.5,689.1 886.9,699.3 889.4,702.7 891.1,724.9 894.5,723.2 896.2,670.3 898.8,668.6 901.4,669.5 903.9,682.3 905.6,702.7 909.0,701.0 910.7,689.1 913.3,682.3 915.0,670.3 917.6,673.8 921.0,682.3 923.5,677.2 926.1,668.6 928.6,667.8 930.3,651.6 932.0,638.8 936.3,638.8 937.2,661.8 940.6,663.5 942.3,675.5 944.8,682.3 946.5,661.8 948.2,645.6 952.5,644.8 954.2,660.1 957.6,663.5 959.3,685.7 961.9,686.5 964.4,682.3 966.1,674.6 968.7,672.0 972.1,672.9 973.8,689.1 976.4,692.5 979.8,694.2 982.3,699.3 984.0,713.0 986.6,733.4 989.1,734.3 991.7,728.3 994.3,731.7 996.8,728.3 999.4,731.7 1001.9,728.3 1005.3,726.6 1008.8,724.9 1011.3,723.2 1014.7,722.3 1017.3,738.5 1019.8,716.4 1023.2,713.0 1025.8,714.7 1027.5,689.1 1029.2,661.8 1030.9,651.6 1033.5,639.7 1036.9,638.8 1039.4,643.1 1042.0,655.0 1044.5,651.6 1046.2,641.4 1050.5,640.5 1052.2,660.1 1053.9,680.6 1056.5,702.7 1059.0,685.7 1061.6,680.6 1064.1,675.5 1065.9,648.2 1067.6,626.9 1072.7,626.0 1075.2,636.2 1076.9,648.2 1079.5,655.0 1080.2,660.1 1082.8,665.2 1085.3,697.6 1088.8,698.5 1090.5,665.2 1092.2,655.9 1095.6,655.0 1097.3,668.6 1099.8,672.0 1101.5,685.7 1103.2,665.2 1105.8,660.1 1107.5,644.8 1110.1,643.9 1111.8,665.2 1113.5,680.6 1116.0,680.6 1117.7,636.2 1121.1,634.5 1122.8,665.2 1124.5,668.6 1125.4,713.0 1127.1,690.8 1129.7,689.1 1131.4,675.5 1133.9,674.6 1136.5,672.0 1138.2,648.2 1139.9,637.1 1143.3,636.2 1145.0,668.6 1147.6,670.3 1149.3,648.2 1152.7,651.6 1155.2,668.6 1157.8,697.6 1159.5,665.2 1160.3,632.8 1163.8,632.0 1164.6,658.4 1166.3,668.6 1169.7,670.3 1172.3,694.2 1176.5,692.5 1179.1,682.3 1181.6,661.8 1183.4,638.8 1185.9,637.1 1188.5,629.4 1191.9,627.7 1193.1,610.7 1197.0,609.8 1198.2,622.6 1200.4,644.8 1202.1,649.0 1206.4,648.2 1208.9,649.0 1210.6,636.2 1213.2,627.7 1216.6,626.9 1219.1,631.1 1220.9,656.7 1222.6,638.0 1225.1,636.2 1226.3,590.2 1231.1,589.4 1231.9,626.0 1233.6,661.8 1236.2,672.0 1240.5,671.2 1243.9,670.3 1244.7,626.9 1249.0,626.0 1253.2,626.9 1254.1,653.3 1255.8,660.1 1257.5,692.5 1260.9,693.4 1262.6,677.2 1266.0,678.0 1268.6,674.6 1272.0,673.8 1274.5,672.0 1278.8,671.2 1280.5,689.1 1283.1,689.9 1284.8,677.2 1288.2,678.0 1289.9,733.4 1292.4,734.3 1295.0,702.7 1299.3,701.9 1301.0,713.0 1304.4,714.7 1306.1,733.4 1307.8,723.2 1309.5,721.5 1311.2,721.5 1312.9,713.0 1314.6,678.9 1318.0,678.0 1320.6,677.2 1322.3,682.3 1324.0,707.8 1325.7,713.0 1327.4,702.7 1329.9,699.3 1332.5,695.9 1335.9,694.2 1338.5,682.3 1340.2,672.0 1341.9,665.2 1343.6,624.3 1347.8,623.5 1349.0,648.2 1351.2,661.8 1352.9,690.8 1354.6,682.3 1356.4,661.8 1358.1,644.8 1360.6,643.1 1363.2,661.8 1364.9,648.2 1366.6,644.8 1370.8,643.9 1370.8,731.5 1364.0,731.5 1360.6,732.4 1358.9,744.3 1357.2,775.9 1354.6,775.0 1352.1,771.6 1349.0,769.9 1347.8,738.4 1346.1,739.2 1343.6,766.5 1341.0,764.8 1339.3,785.2 1337.6,795.5 1335.0,797.2 1332.5,785.2 1329.9,787.8 1326.5,788.6 1323.1,789.5 1319.7,788.6 1318.0,767.3 1315.4,768.2 1313.7,781.8 1311.2,786.9 1309.5,785.2 1306.1,784.4 1302.7,783.5 1299.3,781.8 1296.7,785.2 1295.0,798.0 1291.6,793.8 1289.9,799.7 1286.5,800.6 1283.9,780.1 1280.5,778.4 1278.8,761.4 1275.4,758.0 1272.8,759.7 1270.3,763.1 1267.7,768.2 1265.2,775.0 1263.5,771.6 1261.8,773.3 1259.2,775.9 1255.8,775.0 1254.1,758.0 1252.4,740.9 1250.7,740.9 1249.3,737.5 1247.6,739.2 1246.4,763.9 1242.2,763.1 1238.8,763.9 1236.2,764.8 1232.8,764.8 1230.2,739.2 1229.2,725.6 1227.2,725.6 1226.0,739.2 1222.6,740.9 1219.1,742.6 1216.6,739.2 1214.0,740.9 1210.6,751.1 1208.1,751.1 1204.7,754.5 1202.1,744.3 1200.4,740.9 1197.0,738.4 1195.3,731.5 1191.9,732.4 1190.2,740.9 1187.6,744.3 1185.9,763.1 1183.4,769.9 1180.8,771.6 1179.1,798.9 1176.5,799.7 1174.8,785.2 1172.3,781.8 1169.7,776.7 1168.0,759.7 1165.5,760.5 1162.9,763.1 1160.3,776.7 1156.9,778.4 1153.5,775.0 1151.8,751.1 1150.1,772.4 1146.7,773.3 1143.3,771.6 1141.6,757.1 1139.0,758.0 1136.5,764.8 1133.9,766.5 1130.5,771.6 1128.0,775.0 1126.2,787.8 1122.8,786.9 1121.1,775.0 1118.6,766.5 1116.0,768.2 1114.3,776.7 1111.8,778.4 1109.2,771.6 1106.6,773.3 1104.1,775.0 1102.4,769.9 1099.0,768.2 1096.4,764.8 1093.9,758.0 1091.3,768.2 1089.6,778.4 1086.2,779.3 1082.8,775.0 1080.2,764.8 1079.5,746.0 1077.8,747.7 1076.1,746.0 1074.4,720.5 1071.0,722.2 1070.1,730.7 1068.4,747.7 1066.7,764.8 1064.1,768.2 1061.6,763.1 1059.0,764.8 1057.3,778.4 1054.8,780.1 1052.2,771.6 1048.8,769.9 1047.1,747.7 1044.5,743.5 1042.8,746.0 1040.3,761.4 1037.7,752.8 1035.2,756.2 1032.6,758.0 1030.9,780.1 1029.2,794.6 1025.8,794.6 1022.4,793.8 1019.8,783.5 1017.3,794.6 1013.9,795.5 1010.5,788.6 1007.9,785.2 1005.3,795.5 1001.9,792.0 998.5,791.2 995.1,792.0 992.6,795.5 990.0,802.3 986.6,807.4 984.0,809.1 982.3,790.3 979.8,788.6 978.1,798.9 975.5,797.2 973.8,775.0 972.1,758.0 970.4,769.9 967.8,768.2 966.1,756.2 964.4,795.5 961.9,798.9 960.2,805.7 957.6,802.3 955.9,758.8 952.5,759.7 949.1,761.4 946.5,759.7 944.0,768.2 940.6,768.2 936.3,766.5 934.6,751.1 932.9,744.3 930.3,749.4 928.6,769.9 926.1,769.9 924.4,756.2 921.8,759.7 919.3,761.4 916.7,764.8 915.3,742.6 914.1,768.2 912.4,775.0 909.9,778.4 906.5,780.1 901.7,780.1 900.7,756.2 899.1,756.2 898.0,771.6 895.4,795.5 893.7,802.3 891.1,800.6 888.6,788.6 886.0,780.1 883.5,778.4 880.9,775.0 878.4,768.2 874.9,766.5 873.2,756.2 870.7,763.1 868.1,771.6 865.6,778.4 863.0,795.5 861.3,817.6 858.8,815.9 857.0,804.0 855.3,802.3 852.8,809.1 850.2,810.8 849.5,807.4 847.8,805.7 845.2,785.2 841.8,788.6 839.3,778.4 836.7,792.0 835.0,771.6 832.4,768.2 830.7,747.7 827.3,744.3 824.8,737.5 823.1,756.2 821.4,795.5 818.8,798.9 815.4,802.3 813.7,830.4 809.4,829.5 806.9,812.5 804.3,802.3 800.9,795.5 797.5,792.0 794.9,783.5 790.7,788.6 788.1,798.9 785.6,805.7 783.9,823.6 779.6,822.7 777.9,805.7 776.2,792.0 773.6,790.3 771.1,783.5 767.7,783.5 765.1,792.0 761.7,795.5 760.0,817.6 755.7,817.6 753.2,793.8 749.8,795.5 746.4,795.5 743.8,790.3 742.1,777.6 739.5,776.7 737.0,786.9 733.6,781.8 731.0,771.6 729.3,742.6 727.6,762.2 723.4,763.1 720.8,764.8 719.1,788.6 718.2,795.5 715.7,797.2 713.1,788.6 710.6,795.5 707.2,797.2 704.6,795.5 702.9,780.1 701.2,776.7 699.5,756.2 695.2,756.2 693.5,768.2 691.0,758.0 688.4,769.9 685.0,768.2 682.4,759.7 680.7,740.9 678.2,746.9 674.8,747.7 673.1,758.0 670.5,759.7 668.0,758.0 666.2,742.6 662.0,740.9 659.4,756.2 656.9,758.0 654.3,737.5 652.6,751.1 650.9,768.2 648.4,766.5 645.8,758.0 643.2,744.3 640.7,751.1 638.1,761.4 635.6,768.2 633.9,780.1 631.3,764.8 629.1,781.8 627.9,818.5 625.3,817.6 623.6,797.2 621.9,781.8 620.2,795.5 619.5,794.6 617.8,795.5 615.2,797.2 611.8,788.6 609.3,800.6 606.7,804.0 603.3,800.6 599.9,798.9 597.3,797.2 593.9,793.8 590.5,792.9 587.1,792.0 584.5,781.8 581.1,783.5 577.7,785.2 575.2,795.5 573.5,810.8 571.8,821.0 569.2,817.6 566.6,809.1 564.9,819.3 563.2,822.7 561.5,829.5 558.1,830.4 553.9,831.2 550.5,833.0 548.8,842.3 544.5,841.5 542.8,827.8 539.4,827.8 536.0,826.1 534.3,812.5 531.7,815.9 528.3,816.8 524.0,817.6 520.6,817.6 518.1,812.5 516.4,829.5 514.7,829.5 512.1,814.2 509.5,812.5 506.1,814.2 502.7,817.6 499.3,814.2 496.8,815.9 494.2,823.6 491.6,822.7 489.1,815.9 485.7,819.3 482.3,822.7 478.9,826.1 475.5,829.5 472.9,822.7 470.3,827.8 466.9,829.5 463.5,827.0 460.1,827.8 457.6,832.1 455.0,827.0 452.4,830.4 449.9,829.5 446.5,827.8 444.8,834.7 442.2,833.0 439.7,831.2 437.1,822.7 434.5,829.5 432.0,835.5 429.4,826.1 427.7,822.7 425.2,826.1 423.5,834.7 420.9,836.4 418.4,834.7 415.8,836.4 413.2,834.7 412.4,805.7 409.8,804.0 407.3,802.3 404.7,786.9 402.2,793.8 399.6,819.3 397.0,824.4 394.5,822.7 391.9,819.3 389.5,795.5 386.9,783.5 384.4,785.2 381.8,809.1 378.4,809.1 375.0,802.3 371.6,800.6 369.0,809.1 366.5,800.6 363.1,792.0 359.7,790.3 356.2,785.2 353.7,788.6 351.1,781.8 349.4,790.3 346.0,792.0 344.3,768.2 341.8,794.6 338.4,797.2 334.9,805.7 332.4,814.2 329.8,814.2 327.3,817.6 324.7,815.9 322.2,819.3 319.6,834.7 317.9,845.7 314.5,844.9 312.8,815.9 311.1,797.2 308.5,800.6 305.1,797.2 302.6,788.6 299.7,775.0 296.6,781.8 293.2,793.8 289.8,795.5 286.4,804.0 284.7,785.2 281.2,785.2 277.8,798.9 275.3,800.6 272.7,809.1 270.2,810.8 267.6,805.7 265.1,802.3 262.5,793.8 259.1,795.5 255.7,797.2 253.1,795.5 250.6,785.2 248.0,773.3 244.6,797.2 242.0,800.6 239.5,780.1 237.8,781.8 235.2,802.3 232.7,826.1 230.1,827.8 227.6,822.7 225.9,831.2 224.1,836.4 222.4,819.3 219.9,817.6 217.3,815.9 214.8,800.6 211.4,802.3 208.8,819.3 207.1,829.5 204.5,827.8 202.0,826.1 199.4,826.1 196.9,827.8 194.3,829.5 191.8,831.2 189.2,834.7 186.6,839.8 184.1,838.1 181.5,836.4 179.0,822.7 177.3,841.5 175.6,836.4 173.0,827.8 170.5,831.2 168.8,850.0 166.2,854.3 163.6,858.5 161.1,877.3 159.9,877.3"/>
<rect x="160.2" y="860.2" width="3" height="153.8" fill="#d070b8"/>
<polygon fill="#b4e0ff" points="193.1,832.3 196.2,831.6 196.2,856.5 194.0,854.3 193.1,851.7"/>
<polygon fill="#b4e0ff" points="201.3,831.2 204.9,832.3 204.5,851.4 201.8,853.9 201.3,854.3"/>
<polygon fill="#b4e0ff" points="628.8,638.8 631.5,638.0 631.5,670.0 629.1,668.6"/>
<polygon fill="#ffff00" points="805.7,711.2 812.0,710.4 812.5,716.4 811.1,731.7 806.0,731.7"/>
<polygon fill="#50bcff" points="804.3,709.5 805.2,699.3 811.1,697.6 818.0,699.3 818.3,707.8 812.8,709.5 806.0,711.2"/>
<polygon fill="#9d3bff" points="809.4,699.3 810.3,675.5 812.0,675.5 813.7,699.3"/>
<polygon fill="#9d3bff" points="817.1,685.7 818.8,680.6 823.1,680.6 821.4,689.1 818.0,690.8"/>
<polygon fill="#50bcff" points="781.8,709.5 782.5,692.5 787.3,692.5 788.1,699.3 785.6,711.2"/>
<polygon fill="#50bcff" points="619.9,675.5 620.2,629.4 622.8,631.1 622.8,675.5"/>
<polygon fill="#50bcff" points="610.0,686.5 610.9,680.6 616.0,680.6 616.5,686.5"/>
<polygon fill="#b4e0ff" points="1001.2,639.0 1003.8,638.6 1003.8,665.1 1001.2,665.1"/>
<polygon fill="#b4e0ff" points="1006.9,638.1 1009.8,638.8 1009.8,671.9 1006.9,671.9"/>
<polygon fill="#b4e0ff" points="1020.0,645.6 1024.8,644.8 1024.8,666.1 1020.0,666.8"/>
<polygon fill="#ffff00" points="1001.1,680.6 1003.6,680.6 1004.0,689.1 1001.2,689.1"/>
<polygon fill="#ffff00" points="1019.0,682.3 1021.5,682.3 1021.7,692.5 1019.1,692.5"/>
<polygon fill="#50bcff" points="883.5,690.8 886.0,690.8 889.4,695.9 889.8,701.0 886.0,699.3"/>
<polygon fill="#00d28b" points="1202.1,734.1 1204.7,732.4 1207.7,734.1 1208.1,754.5 1202.6,755.4"/>
<polygon fill="#00d28b" points="1210.6,725.6 1215.7,723.9 1216.6,740.9 1214.0,751.1 1211.1,752.0"/>
<polygon fill="#00d28b" points="1183.9,747.7 1187.3,746.0 1187.6,768.2 1182.5,769.9"/>
<polygon fill="#00d28b" points="1265.5,757.1 1269.1,756.2 1269.4,775.0 1265.2,775.9"/>
<polygon fill="#00d28b" points="1191.4,717.0 1194.8,716.2 1195.5,731.5 1191.7,732.4"/>
<polygon fill="#9d3bff" points="1211.1,767.3 1214.0,767.3 1214.0,774.1 1211.1,774.1"/>
<polygon fill="#ffff00" points="1111.8,659.3 1115.2,659.3 1115.2,665.2 1111.8,665.2"/>
<polygon fill="#b4e0ff" points="1280.2,631.1 1285.6,630.3 1285.6,659.6 1280.2,659.6"/>
<polygon fill="#b4e0ff" points="1288.7,641.4 1292.4,640.9 1292.4,661.3 1288.7,661.3"/>
<polygon fill="#b4e0ff" points="1295.0,638.0 1298.4,637.4 1298.4,659.6 1295.0,659.6"/>
<polygon fill="#b4e0ff" points="1304.4,625.2 1306.4,624.7 1309.5,631.1 1309.5,640.9 1304.4,640.9"/>
<polygon fill="#ffff00" points="1310.8,653.3 1314.9,653.3 1314.9,663.5 1312.0,663.5"/>
</g></g>
</g>
<g font-size="44.3" text-anchor="end">
<text transform="translate(128.3,1026.5) scale(0.972,1)">0.0</text>
<text transform="translate(128.3,831.5) scale(0.972,1)">0.1</text>
<text transform="translate(128.3,636.5) scale(0.972,1)">0.2</text>
<text transform="translate(128.3,441.5) scale(0.972,1)">0.3</text>
<text transform="translate(128.3,246.5) scale(0.972,1)">0.4</text>
<text transform="translate(128.3,51.5) scale(0.972,1)">0.5</text>
</g>
<g font-size="44.3" text-anchor="middle">
<text transform="translate(160.6,1079.8) scale(0.95,1)">0</text>
<text transform="translate(765.6,1079.8) scale(0.95,1)">100</text>
<text transform="translate(1370.6,1079.8) scale(0.95,1)">200</text>
</g>
<text transform="translate(764.3,1157.6) scale(0.983,1)" font-size="51.6" text-anchor="middle">Time(ns)</text>
<text transform="translate(55,526.2) rotate(-90) scale(0.99,1)" font-size="51.3" text-anchor="middle">RMSD(nm)</text>
<rect x="1012.5" y="79.80" width="103" height="3.05" fill="#9d3bff" fill-opacity="0.7"/>
<rect x="1010" y="79.80" width="108" height="3.05" fill="#9d3bff" fill-opacity="0.17"/>
<rect x="1012.5" y="82.85" width="103" height="3.05" fill="#9d3bff" fill-opacity="1.0"/>
<rect x="1010" y="82.85" width="108" height="3.05" fill="#9d3bff" fill-opacity="0.25"/>
<text transform="translate(1127.2,100.9) scale(0.977,1)" font-size="51.4">Complex1</text>
<rect x="1012.5" y="143.00" width="103" height="3.05" fill="#50bcff" fill-opacity="0.55"/>
<rect x="1010" y="143.00" width="108" height="3.05" fill="#50bcff" fill-opacity="0.14"/>
<rect x="1012.5" y="146.05" width="103" height="3.05" fill="#50bcff" fill-opacity="1.0"/>
<rect x="1010" y="146.05" width="108" height="3.05" fill="#50bcff" fill-opacity="0.25"/>
<rect x="1012.5" y="149.10" width="103" height="3.05" fill="#50bcff" fill-opacity="0.08"/>
<rect x="1010" y="149.10" width="108" height="3.05" fill="#50bcff" fill-opacity="0.02"/>
<text transform="translate(1127.2,164.4) scale(0.977,1)" font-size="51.4">Complex2</text>
<rect x="1012.5" y="206.00" width="103" height="3.05" fill="#ffff00" fill-opacity="0.5"/>
<rect x="1010" y="206.00" width="108" height="3.05" fill="#ffff00" fill-opacity="0.12"/>
<rect x="1012.5" y="209.05" width="103" height="3.05" fill="#ffff00" fill-opacity="1.0"/>
<rect x="1010" y="209.05" width="108" height="3.05" fill="#ffff00" fill-opacity="0.25"/>
<rect x="1012.5" y="212.10" width="103" height="3.05" fill="#ffff00" fill-opacity="0.2"/>
<rect x="1010" y="212.10" width="108" height="3.05" fill="#ffff00" fill-opacity="0.05"/>
<text transform="translate(1127.2,227.9) scale(0.977,1)" font-size="51.4">Complex3</text>
<rect x="1012.5" y="269.00" width="103" height="3.05" fill="#00d28b" fill-opacity="0.35"/>
<rect x="1010" y="269.00" width="108" height="3.05" fill="#00d28b" fill-opacity="0.09"/>
<rect x="1012.5" y="272.05" width="103" height="3.05" fill="#00d28b" fill-opacity="1.0"/>
<rect x="1010" y="272.05" width="108" height="3.05" fill="#00d28b" fill-opacity="0.25"/>
<rect x="1012.5" y="275.10" width="103" height="3.05" fill="#00d28b" fill-opacity="0.35"/>
<rect x="1010" y="275.10" width="108" height="3.05" fill="#00d28b" fill-opacity="0.09"/>
<text transform="translate(1127.2,291.4) scale(0.977,1)" font-size="51.4">Complex4</text>
<rect x="1012.5" y="332.00" width="103" height="3.05" fill="#ff7dc5" fill-opacity="0.2"/>
<rect x="1010" y="332.00" width="108" height="3.05" fill="#ff7dc5" fill-opacity="0.05"/>
<rect x="1012.5" y="335.05" width="103" height="3.05" fill="#ff7dc5" fill-opacity="1.0"/>
<rect x="1010" y="335.05" width="108" height="3.05" fill="#ff7dc5" fill-opacity="0.25"/>
<rect x="1012.5" y="338.10" width="103" height="3.05" fill="#ff7dc5" fill-opacity="0.45"/>
<rect x="1010" y="338.10" width="108" height="3.05" fill="#ff7dc5" fill-opacity="0.11"/>
<text transform="translate(1127.2,354.9) scale(0.977,1)" font-size="51.4">Protein</text>
</svg></body></html>
